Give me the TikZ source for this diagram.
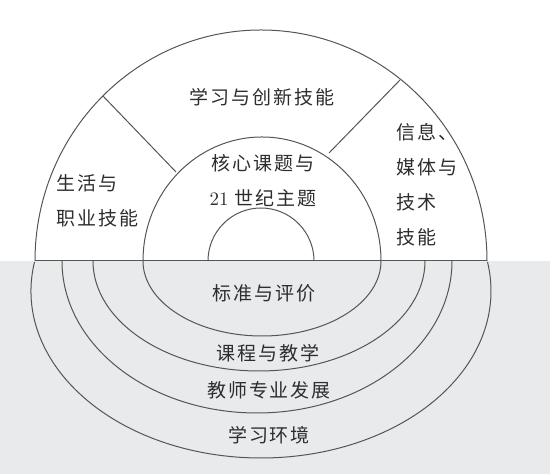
\documentclass[tikz,border=0pt]{standalone}
\usepackage{fontspec}
\newfontfamily\cjk[LetterSpace=10]{Noto Sans CJK SC}
\definecolor{bggray}{RGB}{233,234,236}
\definecolor{linegray}{RGB}{85,85,85}
\definecolor{txtgray}{RGB}{45,45,45}
\tikzset{
  ring/.style={draw=linegray, line width=0.5pt},
  lbl/.style={text=txtgray, inner sep=0pt, align=center,
    font={\cjk\fontsize{9.5}{17.5}\selectfont}},
}
\begin{document}
\begin{tikzpicture}[x=0.5pt, y=0.5pt]
    \useasboundingbox (-261,-213) rectangle (289,261);
    % Hintergrund unten
    \fill[bggray] (-261,-213) rectangle (289,0);
    % obere Halbkreise
    \draw[ring] (226,0) arc[start angle=0, end angle=180, x radius=226, y radius=231];
    \draw[ring] (120,0) arc[start angle=0, end angle=180, x radius=119, y radius=124];
    \draw[ring] (53,0) arc[start angle=0, end angle=180, x radius=53, y radius=53];
    \draw[ring] (-226,0) -- (226,0);
    % Trennlinien
    \draw[ring] (-158,165) -- (-85,89);
    \draw[ring] (139,181) -- (68,108);
    % untere Boegen
    \draw[ring] (-118,0) arc[start angle=180, end angle=360, x radius=119, y radius=75];
    \draw[ring] (-168,0) arc[start angle=180, end angle=360, x radius=166, y radius=110];
    \draw[ring] (-199,0) arc[start angle=180, end angle=360, x radius=195, y radius=152];
    \draw[ring] (0,-30) ++(170:230 and 167) arc[start angle=170, end angle=370, x radius=230, y radius=167];
    % Beschriftungen
    \node[lbl] (innov) at (1,164) {学习与创新技能};
    \node[lbl, anchor=west, align=left] (life) at (-205,60) {生活与\\职业技能};
    \node[lbl] (core) at (2,80) {核心课题与\\{\normalfont 21} 世纪主题};
    \node[lbl, anchor=west, align=left] (info) at (135,76) {信息、\\媒体与\\技术\\技能};
    \node[lbl] (std) at (3,-32) {标准与评价};
    \node[lbl] (course) at (7,-92) {课程与教学};
    \node[lbl] (teach) at (8,-129) {教师专业发展};
    \node[lbl] (env) at (8,-174) {学习环境};
\end{tikzpicture}
\end{document}
